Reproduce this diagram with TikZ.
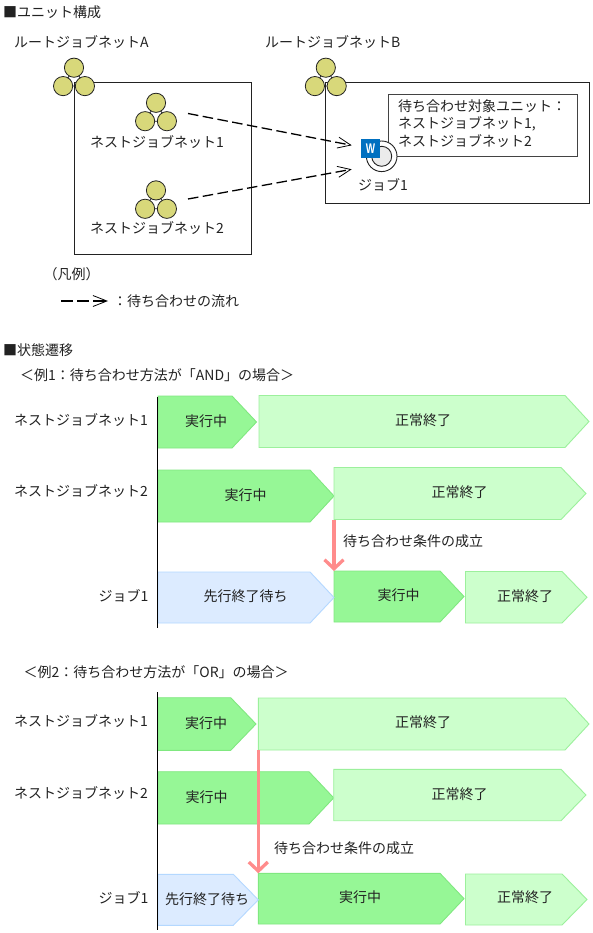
\documentclass[tikz,border=0pt]{standalone}
\usepackage{fontspec}
\setmainfont{Noto Sans CJK JP}
\newfontfamily\wfont[FakeStretch=0.7]{Liberation Sans}
\usetikzlibrary{arrows.meta,calc}
\definecolor{runfill}{HTML}{96F796}
\definecolor{rundraw}{HTML}{80E880}
\definecolor{donefill}{HTML}{CCFFCC}
\definecolor{donedraw}{HTML}{9CF09C}
\definecolor{waitfill}{HTML}{DCEBFF}
\definecolor{waitdraw}{HTML}{B4D8FF}
\definecolor{jpred}{HTML}{FF8C8C}
\definecolor{yel}{HTML}{D8D87A}
\definecolor{ink}{HTML}{222222}
\definecolor{wblue}{HTML}{0070C0}
\tikzset{
  txt/.style={inner sep=0pt,text height=12.3pt,text depth=1.7pt,font=\fontsize{14pt}{14pt}\selectfont,text=ink},
  lbl/.style={txt,anchor=west},
  unitbox/.style={draw=ink,line width=.9pt},
  notebox/.style={draw=ink!85,line width=1.1pt,fill=white},
  ball/.style={draw=ink,fill=yel,line width=.8pt},
  wire/.style={draw=ink,line width=.8pt},
  flow/.style={draw=black,line width=1.3pt,dash pattern=on 10.5pt off 4.5pt,-{Straight Barb[length=13pt,width=11pt,line width=.8pt]}},
  legflow/.style={draw=black,line width=1.3pt,dash pattern=on 11.5pt off 4.5pt,-{Straight Barb[length=14pt,width=11pt,line width=.8pt]}},
  axis/.style={draw=black,line width=1.2pt},
  cond/.style={draw=jpred,line width=3.5pt,-{Straight Barb[length=9pt,width=19pt,line width=3.3pt]}},
  run/.style={fill=runfill,draw=rundraw,line width=.9pt},
  done/.style={fill=donefill,draw=donedraw,line width=.9pt},
  wait/.style={fill=waitfill,draw=waitdraw,line width=.9pt},
}
% name, x1, x2, tip, y1, y2, style, text x, text y; the label is \chevtext
\newcommand{\chev}[9]{%
  \draw[#7] (#2,#5) -- (#3,#5) -- (#4,{(#5+#6)/2}) -- (#3,#6) -- (#2,#6) -- cycle;
  \coordinate (#1nw) at (#2,#5);
  \coordinate (#1sw) at (#2,#6);
  \node[txt] (#1) at (#8,#9) {\chevtext};
}
\newcommand{\icon}[3]{% name, top x, top y
  \draw[wire] (#2,#3) -- (#2-10.9,#3+18.4) -- (#2+10.9,#3+18.4) -- cycle;
  \filldraw[ball] (#2,#3) circle (9.6);
  \filldraw[ball] (#2-10.9,#3+18.4) circle (9.6);
  \filldraw[ball] (#2+10.9,#3+18.4) circle (9.6);
  \coordinate (#1) at (#2,#3+12);
}
\begin{document}
\begin{tikzpicture}[x=1pt,y=-1pt]
\useasboundingbox[fill=white] (0,0) rectangle (593,933);
% --- unit structure ---
\node[lbl] (h1) at (3,12) {■ユニット構成};
\node[lbl] (ra) at (14,42) {ルートジョブネットA};
\node[lbl] (rb) at (265,42) {ルートジョブネットB};
\draw[unitbox] (74,82.5) rectangle (251,254);
\draw[unitbox] (325,82.5) rectangle (589.5,203.5);
\icon{iconA}{74}{67.7}
\icon{iconB}{325.8}{67.7}
\icon{iconN1}{156}{102.8}
\icon{iconN2}{156}{190.4}
\node[lbl] (n1) at (90,142) {ネストジョブネット1};
\node[lbl] (n2) at (90,228) {ネストジョブネット2};
\node[notebox,minimum width=189pt,minimum height=62.5pt,inner sep=0pt,anchor=north west] (note) at (388,93.7) {};
\node[lbl] (note1) at (398,106.5) {待ち合わせ対象ユニット：};
\node[lbl] (note2) at (398,123.5) {ネストジョブネット1,};
\node[lbl] (note3) at (398,141) {ネストジョブネット2};
\node[circle,draw=ink,fill=white,line width=.9pt,minimum size=30.6pt,inner sep=0pt] (job) at (381.7,156.3) {};
\node[circle,draw=ink,fill=black!8,line width=.9pt,minimum size=20pt,inner sep=0pt] (jobin) at (381.7,156.3) {};
\node[fill=wblue,minimum size=18.7pt,inner sep=0pt,text=white,font=\wfont\bfseries\fontsize{14pt}{14pt}\selectfont] (w) at (370.6,148.3) {W};
\node[lbl] (j1) at (358,185) {ジョブ1};
\coordinate (outN1) at (188,113.5);
\coordinate (outN2) at (188,199);
\coordinate (inJ1) at (351.7,145.3);
\coordinate (inJ2) at (351.7,169.3);
\draw[flow] (outN1) -- (inJ1);
\draw[flow] (outN2) -- (inJ2);
% --- legend ---
\node[lbl] (leg) at (43.5,274) {（凡例）};
\coordinate (legA) at (61,301);
\coordinate (legB) at (108,301);
\draw[legflow] (legA) -- (legB);
\node[lbl] (legt) at (113,301) {：待ち合わせの流れ};
% --- state transitions ---
\node[lbl] (h2) at (3,350) {■状態遷移};
\node[lbl] (ex1) at (20,375) {＜例1：待ち合わせ方法が「AND」の場合＞};
\node[txt,anchor=west] (a1) at (14,420) {ネストジョブネット1};
\node[txt,anchor=west] (a2) at (14,491) {ネストジョブネット2};
\node[txt,anchor=east] (a3) at (148.5,596) {ジョブ1};
\coordinate (ax1t) at (157.5,397);
\coordinate (ax1b) at (157.5,628);
\def\chevtext{実行中}
\chev{ar1}{158}{232}{256.5}{396}{448}{run}{206}{421}
\chev{ar2}{158}{310}{334}{470}{522}{run}{245.5}{495}
\chev{ar3}{334}{440}{464}{571}{622}{run}{398.5}{595.5}
\def\chevtext{正常終了}
\chev{ad1}{259}{565}{589}{395.5}{447.5}{done}{423}{420}
\chev{ad2}{334}{561}{586}{467.5}{519.5}{done}{459.5}{492}
\chev{ad3}{465.5}{562}{587}{571.5}{623}{done}{525}{596}
\def\chevtext{先行終了待ち}
\chev{aw3}{158}{310}{334}{572}{623}{wait}{245.5}{596}
\draw[axis] (ax1t) -- (ax1b);
\draw[cond] (ad2sw) -- (ar3nw);
\node[lbl] (c1) at (343,541) {待ち合わせ条件の成立};
% example 2
\node[lbl] (ex2) at (23.5,672) {＜例2：待ち合わせ方法が「OR」の場合＞};
\node[txt,anchor=west] (b1) at (14,721) {ネストジョブネット1};
\node[txt,anchor=west] (b2) at (14,793) {ネストジョブネット2};
\node[txt,anchor=east] (b3) at (148.5,898) {ジョブ1};
\coordinate (ax2t) at (157.5,692);
\coordinate (ax2b) at (157.5,930);
\def\chevtext{実行中}
\chev{br1}{158}{230.7}{256}{697.7}{750.3}{run}{206}{723}
\chev{br2}{158}{309}{333.7}{771.7}{824}{run}{206.5}{797}
\chev{br3}{258.3}{440}{464}{873.3}{924}{run}{360}{897}
\def\chevtext{正常終了}
\chev{bd1}{258.3}{565}{589}{698}{750}{done}{423}{722}
\chev{bd2}{333.7}{561}{586}{769.3}{820.7}{done}{459.5}{794}
\chev{bd3}{465.5}{562}{587}{874}{925}{done}{525}{897}
\def\chevtext{先行終了待ち}
\chev{bw3}{158}{233.3}{258.3}{874.3}{925.3}{wait}{207}{899}
\draw[axis] (ax2t) -- (ax2b);
\draw[cond] (bd1sw) -- (br3nw);
\node[lbl] (c2) at (274,848) {待ち合わせ条件の成立};
\end{tikzpicture}
\end{document}
